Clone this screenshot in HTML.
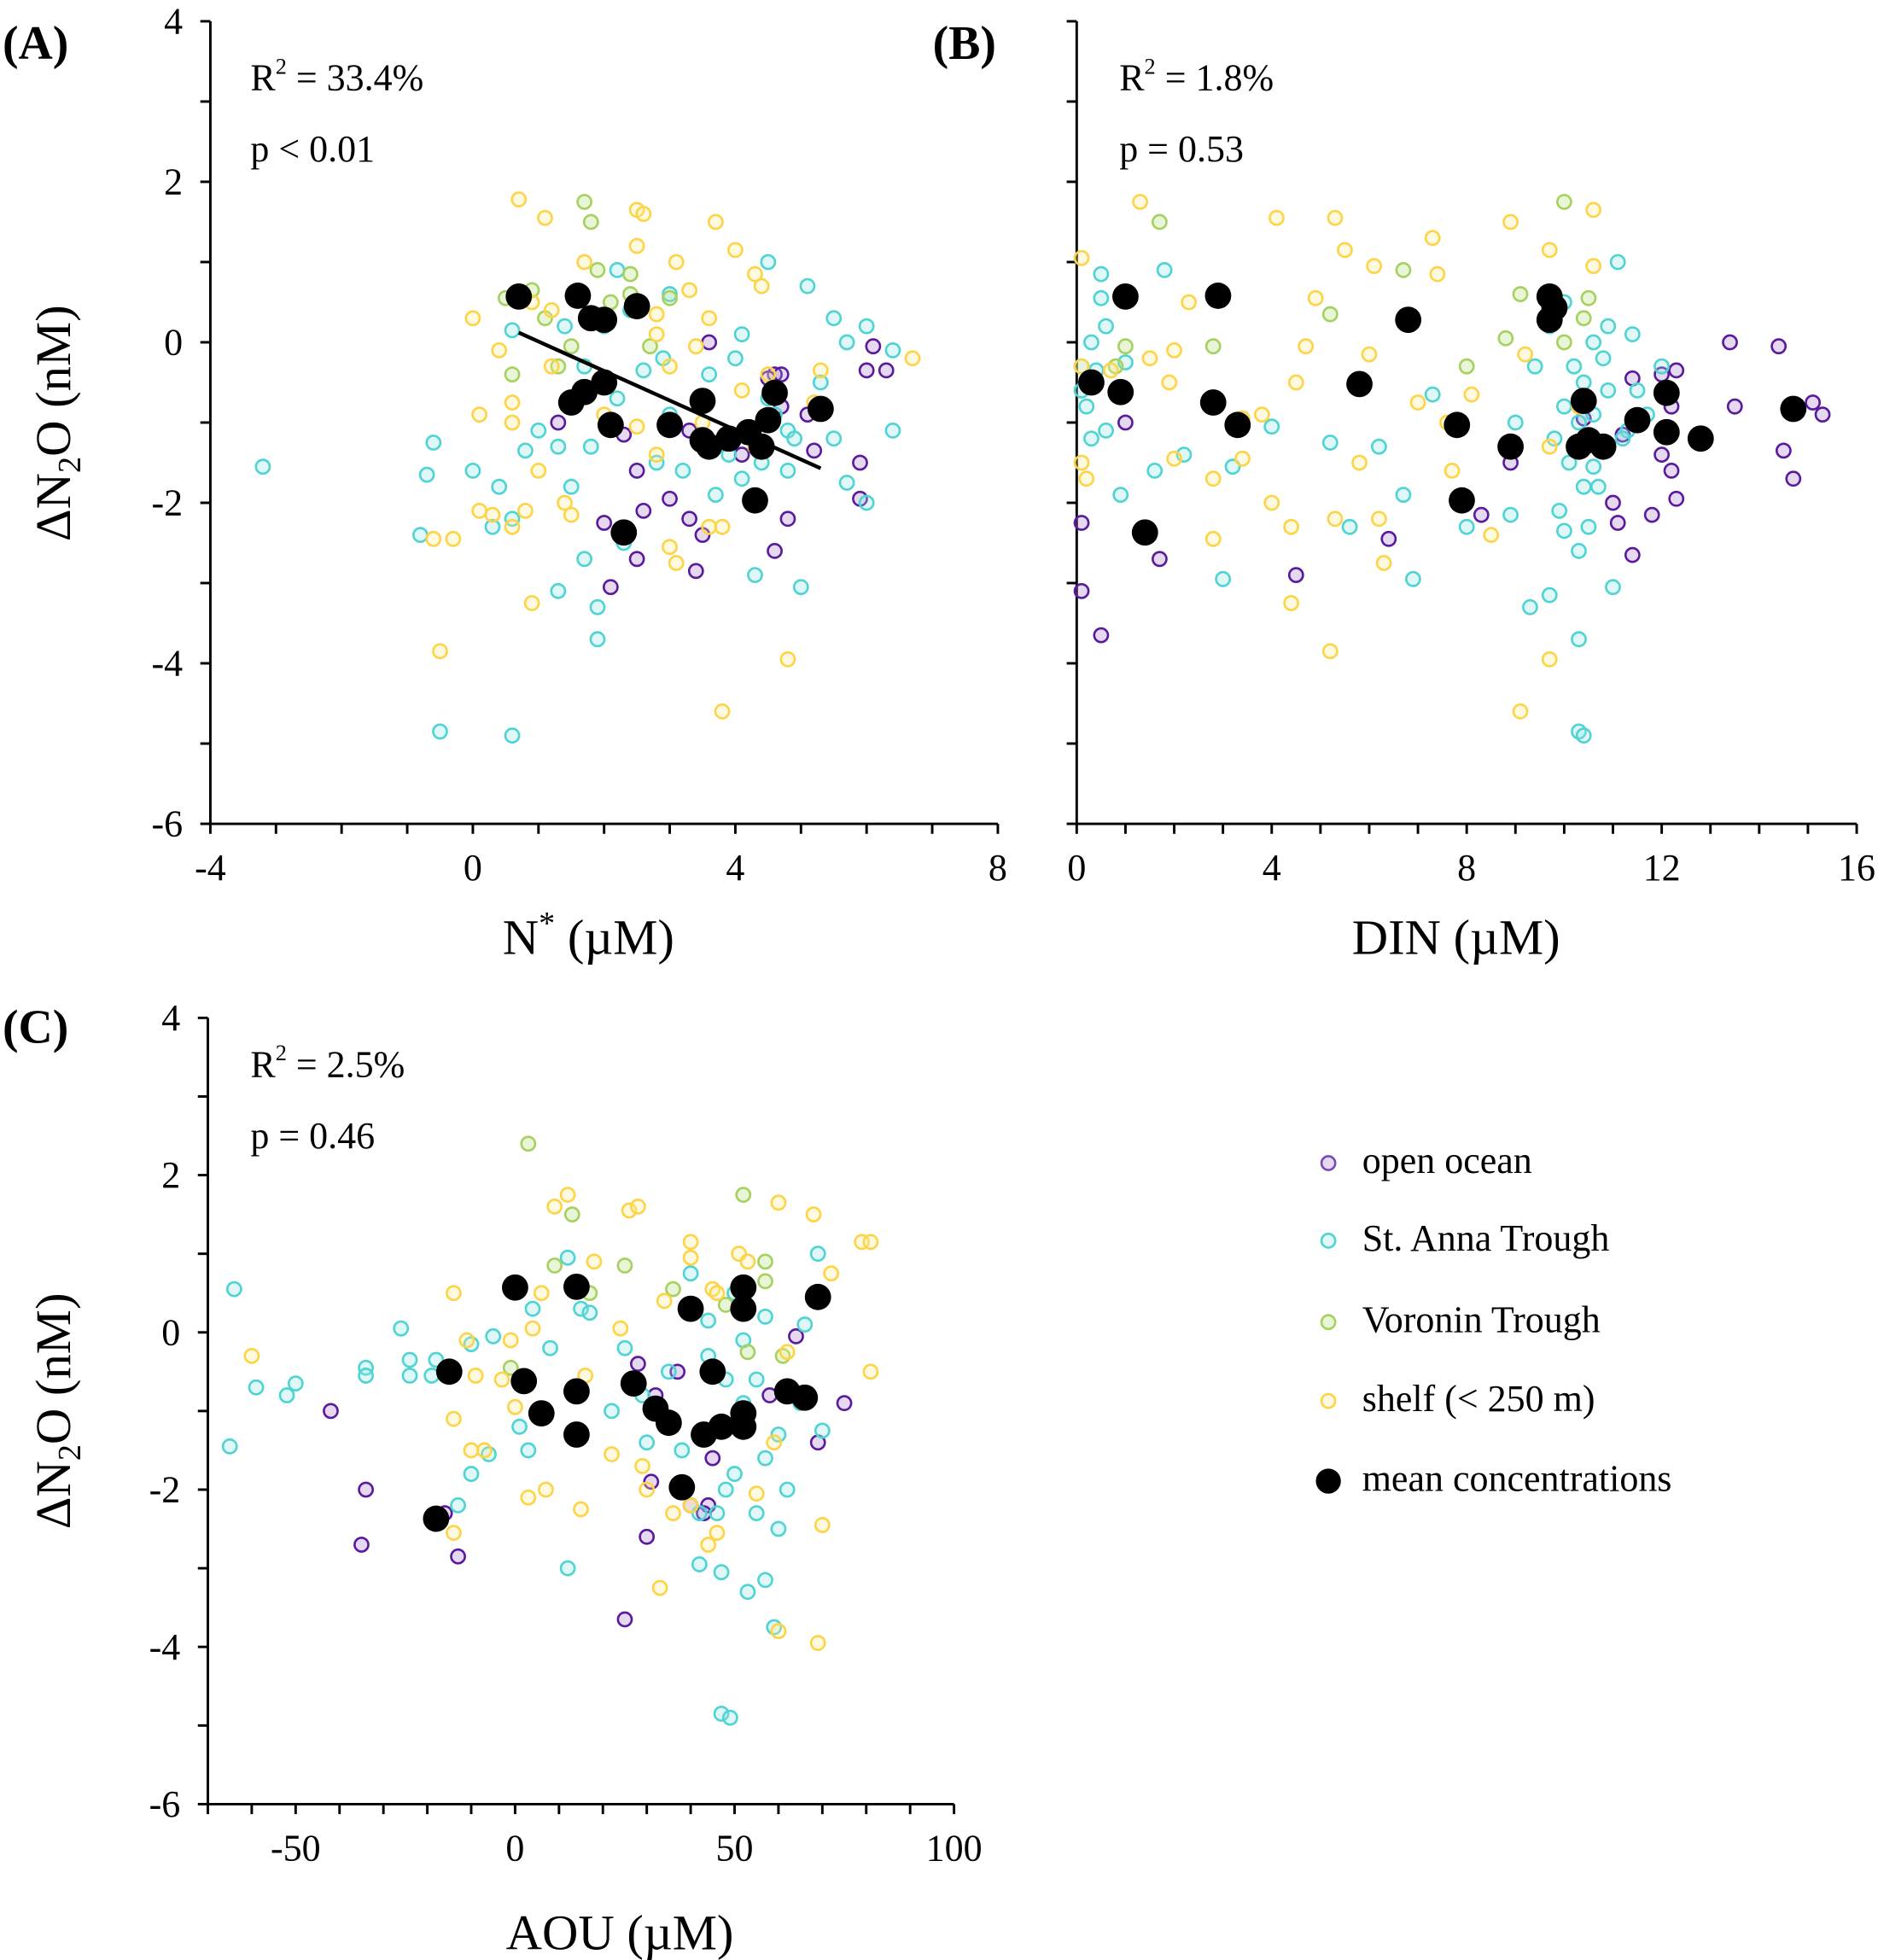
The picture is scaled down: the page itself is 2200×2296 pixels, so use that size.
<!DOCTYPE html>
<html><head><meta charset="utf-8"><style>
html,body{margin:0;padding:0;background:#fff}
svg{display:block;font-family:"Liberation Serif",serif}
svg text{font-family:"Liberation Serif",serif}
</style></head><body>
<svg id="fig" width="2200" height="2296" viewBox="0 0 1500 1565.5" xmlns="http://www.w3.org/2000/svg"></svg>
<script>
// ---- Panel A data: N* (uM) vs dN2O (nM)
const aOpen=[[3.6,0],[4.6,-0.4],[4.7,-0.4],[4.5,-0.45],[5.2,-1.35],[6,-0.35],[6.1,-0.05],[6.3,-0.35],[5.9,-1.5],[5.9,-1.95],[4.6,-2.6],[4.8,-2.2],[3.5,-2.4],[3.3,-2.2],[3.4,-2.85],[2.6,-2.1],[2.5,-1.6],[2.5,-2.7],[2.1,-3.05],[2.0,-2.25],[5.1,-0.9],[4.1,-1.4],[2.3,-1.15],[3.0,-1.95],[1.3,-1.0],[3.3,-1.1],[4.7,-0.8]];
const aAnna=[[-3.2,-1.55],[-0.5,-4.85],[0.6,-4.9],[-0.6,-1.25],[-0.7,-1.65],[-0.8,-2.4],[0,-1.6],[0.4,-1.8],[0.3,-2.3],[0.6,-2.2],[0.8,-1.35],[1.0,-1.1],[1.3,-1.3],[1.5,-1.8],[1.7,-2.7],[1.9,-3.3],[1.9,-3.7],[1.3,-3.1],[2.3,-2.5],[2.6,-0.35],[2.4,0.4],[2.2,0.9],[3.0,0.6],[3.6,-0.4],[4.1,0.1],[4.5,1.0],[5.1,0.7],[5.5,0.3],[5.7,0],[6.0,0.2],[6.4,-0.1],[6.0,-2.0],[5.7,-1.75],[5.0,-3.05],[4.3,-2.9],[4.1,-1.7],[3.9,-1.4],[4.8,-1.1],[5.3,-0.5],[6.4,-1.1],[5.5,-1.2],[3.0,-0.9],[2.0,0.2],[1.4,0.2],[1.7,-0.3],[2.8,-1.5],[3.7,-1.9],[4.4,-1.5],[4.8,-1.6],[4.0,-0.2],[4.5,-0.7],[0.6,0.15],[2.2,-0.7],[3.2,-1.6],[1.8,-1.3],[2.9,-0.2],[4.6,-0.9],[4.9,-1.2]];
const aVoronin=[[1.7,1.75],[1.8,1.5],[1.9,0.9],[0.9,0.65],[0.5,0.55],[0.6,-0.4],[1.5,-0.05],[2.1,0.5],[2.4,0.6],[3.0,0.55],[1.1,0.3],[2.4,0.85],[1.3,-0.3],[2.7,-0.05]];
const aShelf=[[0.7,1.78],[1.1,1.55],[1.7,1.0],[2.5,1.65],[2.6,1.6],[2.5,1.2],[3.1,1.0],[3.7,1.5],[4.0,1.15],[4.3,0.85],[4.4,0.7],[3.3,0.65],[3.6,0.3],[2.8,0.1],[3.0,-0.3],[3.4,-0.05],[4.1,-0.6],[4.5,-0.4],[5.3,-0.35],[5.2,-0.75],[6.7,-0.2],[0,0.3],[0.1,-0.9],[0.6,-0.75],[0.6,-1.0],[1.0,-1.6],[-0.6,-2.45],[-0.3,-2.45],[0.1,-2.1],[0.3,-2.15],[0.8,-2.1],[0.6,-2.3],[-0.5,-3.85],[0.9,-3.25],[1.4,-2.0],[1.5,-2.15],[2.5,-1.05],[3.0,-2.55],[3.1,-2.75],[3.6,-2.3],[3.8,-2.3],[3.8,-4.6],[4.8,-3.95],[2.0,-0.9],[1.2,0.4],[0.9,0.5],[2.8,0.35],[3.5,-1.0],[4.3,-1.3],[0.4,-0.1],[1.2,-0.3],[2.8,-1.4]];
const aMeanX=[0.7,1.6,1.8,2.0,2.5,1.5,1.7,2.0,2.1,3.0,3.5,3.5,3.6,3.9,4.2,4.4,4.5,4.6,5.3,4.3,2.3];
const aMeanY=[0.57,0.58,0.3,0.28,0.45,-0.75,-0.62,-0.5,-1.03,-1.03,-0.73,-1.22,-1.3,-1.2,-1.12,-1.3,-0.97,-0.63,-0.83,-1.97,-2.37];
const aFitX=[0.7,5.3];
const aFitY=[0.12,-1.57];
// ---- Panel B data: DIN (uM) vs dN2O
const bOpen=[[0.1,-3.1],[0.5,-3.65],[1.0,-1.0],[1.7,-2.7],[4.5,-2.9],[6.4,-2.45],[8.3,-2.15],[8.9,-1.5],[10.4,-0.95],[11.0,-2.0],[11.1,-2.25],[11.4,-0.45],[11.8,-2.15],[12.0,-0.4],[12.3,-0.35],[12.2,-0.8],[11.2,-1.15],[12.0,-1.4],[12.3,-1.95],[11.4,-2.65],[12.2,-1.6],[13.4,0],[13.5,-0.8],[14.4,-0.05],[14.5,-1.35],[14.7,-1.7],[15.1,-0.75],[15.3,-0.9],[0.1,-2.25]];
const bAnna=[[0.1,-0.6],[0.2,-0.8],[0.1,-0.3],[0.3,0],[0.5,0.55],[0.5,0.85],[0.4,-0.35],[0.6,-1.1],[0.3,-1.2],[0.6,0.2],[0.9,-1.9],[1.0,-0.25],[1.8,0.9],[1.6,-1.6],[2.2,-1.4],[3.2,-1.55],[3.0,-2.95],[4.0,-1.05],[5.6,-2.3],[5.2,-1.25],[6.2,-1.3],[6.7,-1.9],[6.9,-2.95],[7.3,-0.65],[7.8,-1.0],[8.0,-2.3],[8.9,-2.15],[9.3,-3.3],[9.7,-3.15],[10.3,-4.85],[10.4,-4.9],[10.3,-3.7],[10.0,-2.35],[10.3,-2.6],[10.5,-2.3],[11.0,-3.05],[11.1,1.0],[9.7,0.2],[10.0,0.5],[10.2,-0.3],[10.4,-0.5],[10.6,-0.9],[10.8,-0.2],[10.9,-0.6],[11.3,-1.1],[11.5,-0.6],[9.8,-1.2],[10.1,-1.5],[10.4,-1.8],[10.6,-1.55],[11.2,-1.2],[10.9,0.2],[11.4,0.1],[12.0,-0.3],[9.4,-0.3],[9.0,-1.0],[10.3,-1.0],[10.6,0],[11.7,-0.9],[10.0,-0.8],[10.7,-1.8],[9.9,-2.1]];
const bVoronin=[[1.7,1.5],[5.2,0.35],[6.7,0.9],[8.0,-0.3],[8.8,0.05],[9.1,0.6],[10.0,1.75],[10.5,0.55],[10.4,0.3],[10.0,0],[1.0,-0.05],[2.8,-0.05],[0.8,-0.3]];
const bShelf=[[0.1,1.05],[0.1,-0.3],[0.1,-1.5],[0.2,-1.7],[1.3,1.75],[1.9,-0.5],[2.0,-0.1],[3.4,-0.95],[2.8,-1.7],[2.8,-2.45],[3.4,-1.45],[4.4,-3.25],[4.4,-2.3],[4.7,-0.05],[5.3,1.55],[5.5,1.15],[6.1,0.95],[6.2,-2.2],[6.0,-0.15],[5.3,-2.2],[5.2,-3.85],[7.3,1.3],[7.6,-1.0],[7.4,0.85],[6.3,-2.75],[7.0,-0.75],[7.7,-1.6],[8.1,-0.65],[9.2,-0.15],[8.9,1.5],[9.1,-4.6],[9.7,1.15],[10.6,0.95],[10.6,1.65],[9.7,-3.95],[9.7,-1.3],[10.3,-0.8],[4.1,1.55],[4.9,0.55],[2.3,0.5],[0.7,-0.35],[1.5,-0.2],[3.8,-0.9],[4.5,-0.5],[4.0,-2.0],[2.0,-1.45],[8.5,-2.4],[5.8,-1.5]];
const bMeanX=[0.3,0.9,1.0,1.4,2.8,2.9,3.3,5.8,6.8,7.8,7.9,8.9,9.7,9.8,9.7,10.3,10.4,10.5,10.8,11.5,12.1,12.1,12.8,14.7];
const bMeanY=[-0.5,-0.62,0.57,-2.37,-0.75,0.58,-1.03,-0.52,0.28,-1.03,-1.97,-1.3,0.57,0.43,0.28,-1.3,-0.73,-1.22,-1.3,-0.97,-0.63,-1.12,-1.2,-0.83];
// ---- Panel C data: AOU (uM) vs dN2O
const cOpen=[[-42,-1.0],[-34,-2.0],[-35,-2.7],[-16,-2.3],[-13,-2.85],[30,-2.6],[35,-1.1],[40,-2.2],[44,-2.2],[25,-3.65],[28,-0.4],[32,-0.8],[37,-0.5],[45,-1.6],[52,-1.0],[58,-0.8],[64,-0.05],[69,-1.4],[75,-0.9],[43,-2.3],[31,-1.9]];
const cAnna=[[-64,0.55],[-59,-0.7],[-52,-0.8],[-50,-0.65],[-34,-0.45],[-34,-0.55],[-26,0.05],[-24,-0.55],[-24,-0.35],[-19,-0.55],[-18,-0.35],[-10,-0.15],[-6,-1.55],[-5,-0.05],[4,0.3],[8,-0.2],[12,0.95],[15,0.3],[17,0.25],[29,-0.8],[35,-0.5],[40,0.75],[44,-0.3],[50,0.5],[52,-0.1],[57,0.2],[66,0.1],[69,1.0],[42,-2.95],[47,-3.05],[53,-3.3],[57,-3.15],[59,-3.75],[47,-4.85],[49,-4.9],[12,-3.0],[30,-1.4],[38,-1.5],[50,-1.8],[55,-2.3],[60,-2.5],[62,-2.0],[57,-1.6],[48,-2.0],[46,-2.3],[42,-2.3],[22,-1.0],[25,-0.2],[-13,-2.2],[33,-1.0],[55,-0.6],[60,-1.3],[65,-0.9],[70,-1.25],[-65,-1.45],[-10,-1.8],[1,-1.2],[3,-1.5],[44,0.15],[48,-0.6],[52,-0.9]];
const cVoronin=[[3,2.4],[13,1.5],[52,1.75],[9,0.85],[25,0.85],[36,0.55],[48,0.35],[57,0.9],[61,-0.3],[53,-0.25],[17,0.5],[57,0.65],[-1,-0.45]];
const cShelf=[[-60,-0.3],[-14,0.5],[-11,-0.1],[-9,-0.55],[-14,-1.1],[-3,-0.6],[-1,-0.1],[4,0.05],[6,0.5],[9,1.6],[12,1.75],[18,0.9],[26,1.55],[28,1.6],[34,0.4],[40,1.15],[40,0.95],[45,0.55],[46,0.5],[51,1.0],[53,0.9],[60,1.65],[68,1.5],[72,0.75],[79,1.15],[81,1.15],[81,-0.5],[70,-2.45],[60,-3.8],[69,-3.95],[46,-2.55],[44,-2.7],[33,-3.25],[36,-2.3],[29,-1.7],[22,-1.55],[15,-2.25],[7,-2.0],[-14,-2.55],[-7,-1.5],[30,-2.0],[40,-2.2],[55,-2.05],[59,-1.4],[62,-0.25],[0,-0.95],[16,-0.55],[24,0.05],[3,-2.1],[-10,-1.5]];
const cMeanX=[-18,-15,0,2,6,14,14,14,27,32,35,38,40,43,45,47,52,52,52,52,62,66,69];
const cMeanY=[-2.37,-0.5,0.57,-0.62,-1.03,0.58,-0.75,-1.3,-0.65,-0.97,-1.15,-1.97,0.3,-1.3,-0.5,-1.2,0.57,0.3,-1.03,-1.2,-0.75,-0.83,0.45];
const yTicks=[4,2,0,-2,-4,-6];
const aXTicks=[-4,0,4,8];
const bXTicks=[0,4,8,12,16];
const cXTicks=[-50,0,50,100];

const NS="http://www.w3.org/2000/svg";
const svg=document.getElementById('fig');
const FF='"Liberation Serif", serif';
function el(tag,attrs,parent){const e=document.createElementNS(NS,tag);for(const k in attrs)e.setAttribute(k,attrs[k]);(parent||svg).appendChild(e);return e;}
const styles={
 open:{stroke:'#5a1a9e',fill:'rgba(170,130,210,0.3)'},
 anna:{stroke:'#4fd3d3',fill:'rgba(150,230,230,0.3)'},
 voronin:{stroke:'#a6d160',fill:'rgba(190,225,140,0.35)'},
 shelf:{stroke:'#fdd447',fill:'rgba(255,235,150,0.3)'}
};
function panel(cfg){
 const g=el('g',{});
 
 
 const sx=v=>cfg.x0+(v-cfg.xmin)/(cfg.xmax-cfg.xmin)*(cfg.x1-cfg.x0);
 const sy=v=>cfg.y1-(v-(-6))/(10)*(cfg.y1-cfg.y0);
 const ya=el('line',{x1:cfg.x0,y1:cfg.y0,x2:cfg.x0,y2:cfg.y1,stroke:'#000','stroke-width':2},g);
 
 
 const xa=el('line',{x1:cfg.x0,y1:cfg.y1,x2:cfg.x1,y2:cfg.y1,stroke:'#000','stroke-width':2},g);
 
 
 for(let v=-6;v<=4;v++){
  const y=sy(v);el('line',{x1:cfg.x0-8,y1:y,x2:cfg.x0,y2:y,stroke:'#000','stroke-width':2},g);
 }
 if(cfg.yLabels){yTicks.forEach(v=>{const t=el('text',{x:cfg.x0-22,y:sy(v)+10,'text-anchor':'end','font-size':30,'font-family':FF},g);t.textContent=v;});}
 for(let v=cfg.xmin;v<=cfg.xmax+1e-9;v+=cfg.minor){
  const x=sx(v);el('line',{x1:x,y1:cfg.y1,x2:x,y2:cfg.y1+8,stroke:'#000','stroke-width':2},g);
 }
 cfg.xTicks.forEach(v=>{const t=el('text',{x:sx(v),y:cfg.y1+45,'text-anchor':'middle','font-size':30,'font-family':FF},g);t.textContent=v;});
 [['open',cfg.open],['anna',cfg.anna],['voronin',cfg.voronin],['shelf',cfg.shelf]].forEach(([k,arr])=>{
  arr.forEach(p=>{const c=el('circle',{cx:sx(p[0]),cy:sy(p[1]),r:5.5,fill:styles[k].fill,stroke:styles[k].stroke,'stroke-width':1.8},g);
   
   });
 });
 if(cfg.fitX){const l=el('line',{x1:sx(cfg.fitX[0]),y1:sy(cfg.fitY[0]),x2:sx(cfg.fitX[1]),y2:sy(cfg.fitY[1]),stroke:'#000','stroke-width':3},g);
  
  }
 cfg.meanX.forEach((x,i)=>{const c=el('circle',{cx:sx(x),cy:sy(cfg.meanY[i]),r:10.5,fill:'#000'},g);
  
  });
 return g;
}
panel({name:'panel-a',x0:168,x1:797,y0:17,y1:658,xmin:-4,xmax:8,minor:1,xTicks:aXTicks,yLabels:true,open:aOpen,anna:aAnna,voronin:aVoronin,shelf:aShelf,meanX:aMeanX,meanY:aMeanY,fitX:aFitX,fitY:aFitY});
panel({name:'panel-b',x0:860,x1:1483,y0:17,y1:658,xmin:0,xmax:16,minor:1,xTicks:bXTicks,yLabels:false,open:bOpen,anna:bAnna,voronin:bVoronin,shelf:bShelf,meanX:bMeanX,meanY:bMeanY});
panel({name:'panel-c',x0:166,x1:762,y0:813,y1:1441,xmin:-70,xmax:100,minor:10,xTicks:cXTicks,yLabels:true,open:cOpen,anna:cAnna,voronin:cVoronin,shelf:cShelf,meanX:cMeanX,meanY:cMeanY});
</script>
<svg style="position:absolute;left:0;top:0" width="2200" height="2296" viewBox="0 0 1500 1565.5" xmlns="http://www.w3.org/2000/svg" font-family="Liberation Serif, serif">
 <text x="2" y="47" font-size="38" font-weight="bold">(A)</text>
 <text x="745" y="47" font-size="38" font-weight="bold">(B)</text>
 <text x="2" y="833" font-size="38" font-weight="bold">(C)</text>
 <text x="200" y="72" font-size="30">R<tspan font-size="18" dy="-13">2</tspan><tspan dy="13"> = 33.4%</tspan></text>
 <text x="200" y="129" font-size="30">p &lt; 0.01</text>
 <text x="894" y="72" font-size="30">R<tspan font-size="18" dy="-13">2</tspan><tspan dy="13"> = 1.8%</tspan></text>
 <text x="894" y="129" font-size="30">p = 0.53</text>
 <text x="200" y="860" font-size="30">R<tspan font-size="18" dy="-13">2</tspan><tspan dy="13"> = 2.5%</tspan></text>
 <text x="200" y="917" font-size="30">p = 0.46</text>
 <text transform="translate(56,338) rotate(-90)" text-anchor="middle" font-size="40">ΔN<tspan font-size="26" dy="8">2</tspan><tspan dy="-8">O (nM)</tspan></text>
 <text transform="translate(56,1127) rotate(-90)" text-anchor="middle" font-size="40">ΔN<tspan font-size="26" dy="8">2</tspan><tspan dy="-8">O (nM)</tspan></text>
 <text x="470" y="762" text-anchor="middle" font-size="40">N<tspan font-size="26" dy="-16">*</tspan><tspan dy="16"> (µM)</tspan></text>
 <text x="1163" y="762" text-anchor="middle" font-size="40">DIN (µM)</text>
 <text x="495" y="1557" text-anchor="middle" font-size="40">AOU (µM)</text>
 <g font-size="30">
  <circle cx="1061" cy="929" r="5.5" fill="rgba(170,130,210,0.3)" stroke="#7a4ab8" stroke-width="1.8"/>
  <text x="1088" y="937">open ocean</text>
  <circle cx="1061" cy="991" r="5.5" fill="rgba(150,230,230,0.3)" stroke="#4fd3d3" stroke-width="1.8"/>
  <text x="1088" y="999">St. Anna Trough</text>
  <circle cx="1061" cy="1056" r="5.5" fill="rgba(190,225,140,0.35)" stroke="#a6d160" stroke-width="1.8"/>
  <text x="1088" y="1064">Voronin Trough</text>
  <circle cx="1061" cy="1119" r="5.5" fill="rgba(255,235,150,0.3)" stroke="#fdd447" stroke-width="1.8"/>
  <text x="1088" y="1127">shelf (&lt; 250 m)</text>
  <circle cx="1061" cy="1183" r="10" fill="#000"/>
  <text x="1088" y="1191">mean concentrations</text>
 </g>
</svg>
</body></html>
